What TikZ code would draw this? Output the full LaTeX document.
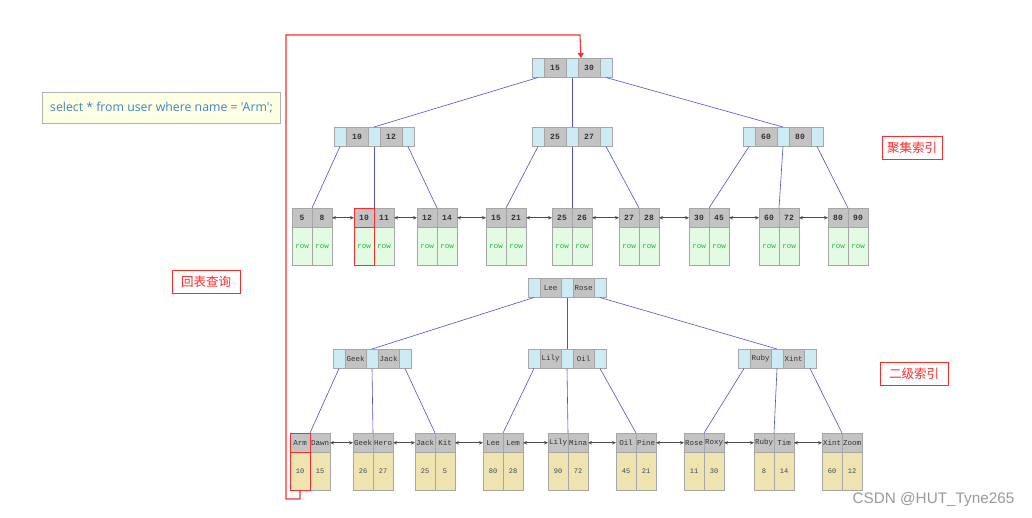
\documentclass[tikz,border=0pt]{standalone}
\usepackage{fontspec}
\usepackage{tikz}
\usetikzlibrary{arrows.meta}
\usetikzlibrary{calc}
\newfontfamily\keyfont{Liberation Mono}
\newfontfamily\cjkfont{Noto Sans CJK SC}
\newfontfamily\sqlfont{Open Sans}
\newfontfamily\markfont{Liberation Sans}

\definecolor{ptrblue}{HTML}{CDEBF4}
\definecolor{keygray}{HTML}{C3C3C3}
\definecolor{cellline}{HTML}{A6A6A6}
\definecolor{rowgreen}{HTML}{E2FBE2}
\definecolor{rowtext}{HTML}{2DB34A}
\definecolor{valyellow}{HTML}{EFE3B0}
\definecolor{valtext}{HTML}{3A4A5A}
\definecolor{linkblue}{HTML}{5050C8}
\definecolor{hired}{HTML}{FF2A2A}
\definecolor{sqlfill}{HTML}{FFFFE3}
\definecolor{sqltext}{HTML}{3C86C6}

\tikzset{
  cell/.style={draw=cellline, line width=0.6pt, inner sep=0pt, outer sep=0pt, minimum height=19.5pt},
  ptrcell/.style={cell, fill=ptrblue, minimum width=12pt},
  ckey/.style={cell, fill=keygray, minimum width=22pt, text=black!80, font=\keyfont\bfseries\fontsize{8}{8}\selectfont},
  skey/.style={ckey, minimum width=21pt, font=\keyfont\fontsize{7.5}{8}\selectfont},
  leafkey/.style={minimum width=20pt},
  rowcell/.style={cell, fill=rowgreen, minimum width=20pt, minimum height=38pt, text=rowtext, font=\keyfont\fontsize{7.5}{8}\selectfont},
  valcell/.style={cell, fill=valyellow, minimum width=20pt, minimum height=38pt, text=valtext, font=\keyfont\fontsize{7}{8}\selectfont},
  link/.style={linkblue, line width=0.6pt},
  sib/.style={{Stealth[length=4pt,width=3.5pt]}-{Stealth[length=4pt,width=3.5pt]}, black!70, line width=0.6pt},
  hl/.style={draw=hired, line width=1pt},
  back/.style={hired, line width=1.1pt, -{Triangle[length=5pt,width=6pt]}},
  tag/.style={draw=hired, line width=0.7pt, fill=white, text=hired, minimum width=68pt, minimum height=23pt, inner sep=0pt, font=\cjkfont\fontsize{12.5}{13}\selectfont},
  sqlbox/.style={draw=black!30, line width=0.7pt, fill=sqlfill, text=sqltext, minimum width=238pt, minimum height=31pt, inner sep=0pt, font=\sqlfont\fontsize{12.3}{14}\selectfont}
}

% inner node: [key style]{name}{x}{y}{key 1}{key 2}
\newcommand{\inode}[6][ckey]{%
  \node[ptrcell, anchor=north west] (#2-p1) at (#3,#4) {};
  \node[#1, anchor=west] (#2-k1) at (#2-p1.east) {#5};
  \node[ptrcell, anchor=west] (#2-p2) at (#2-k1.east) {};
  \node[#1, anchor=west] (#2-k2) at (#2-p2.east) {#6};
  \node[ptrcell, anchor=west] (#2-p3) at (#2-k2.east) {};
}
% leaf of the clustered index
\newcommand{\cleaf}[4]{%
  \node[ckey, leafkey, anchor=north west] (#1-k1) at (#2,208) {#3};
  \node[ckey, leafkey, anchor=west] (#1-k2) at (#1-k1.east) {#4};
  \node[rowcell, anchor=north] (#1-d1) at (#1-k1.south) {row};
  \node[rowcell, anchor=north] (#1-d2) at (#1-k2.south) {row};
}
% leaf of the secondary index
\newcommand{\sleaf}[6]{%
  \node[skey, leafkey, anchor=north west] (#1-k1) at (#2,433) {#3};
  \node[skey, leafkey, anchor=west] (#1-k2) at (#1-k1.east) {#4};
  \node[valcell, anchor=north] (#1-d1) at (#1-k1.south) {#5};
  \node[valcell, anchor=north] (#1-d2) at (#1-k2.south) {#6};
}

\begin{document}
\begin{tikzpicture}[x=1pt,y=-1pt]
\useasboundingbox (0,0) rectangle (1032,517);

% clustered index
\inode{r}{532}{58}{15}{30}
\inode{ca}{334}{127}{10}{12}
\inode{cb}{532}{127}{25}{27}
\inode{cc}{743}{127}{60}{80}

\cleaf{c1}{292}{5}{8}
\cleaf{c2}{354}{10}{11}
\cleaf{c3}{417}{12}{14}
\cleaf{c4}{486}{15}{21}
\cleaf{c5}{552}{25}{26}
\cleaf{c6}{619}{27}{28}
\cleaf{c7}{689}{30}{45}
\cleaf{c8}{759}{60}{72}
\cleaf{c9}{828}{80}{90}

\draw[link] (r-p1.south) -- (ca-p2.north);
\draw[link] (r-p2.south) -- (cb-p2.north);
\draw[link] (r-p3.south) -- (cc-p2.north);
\draw[link] (ca-p1.south) -- (c1-k1.north east);
\draw[link] (ca-p2.south) -- (c2-k1.north east);
\draw[link] (ca-p3.south) -- (c3-k1.north east);
\draw[link] (cb-p1.south) -- (c4-k1.north east);
\draw[link] (cb-p2.south) -- (c5-k1.north east);
\draw[link] (cb-p3.south) -- (c6-k1.north east);
\draw[link] (cc-p1.south) -- (c7-k1.north east);
\draw[link] (cc-p2.south) -- (c8-k1.north east);
\draw[link] (cc-p3.south) -- (c9-k1.north east);

\draw[sib] (c1-k2.east) -- (c2-k1.west);
\draw[sib] (c2-k2.east) -- (c3-k1.west);
\draw[sib] (c3-k2.east) -- (c4-k1.west);
\draw[sib] (c4-k2.east) -- (c5-k1.west);
\draw[sib] (c5-k2.east) -- (c6-k1.west);
\draw[sib] (c6-k2.east) -- (c7-k1.west);
\draw[sib] (c7-k2.east) -- (c8-k1.west);
\draw[sib] (c8-k2.east) -- (c9-k1.west);

\draw[hl] (c2-k1.north west) rectangle (c2-k1.south east);
\draw[hl] (c2-d1.north west) rectangle (c2-d1.south east);

% secondary index
\inode[skey]{s}{528}{278}{Lee}{Rose}
\inode[skey]{sa}{333}{349}{Geek}{Jack}
\inode[skey]{sb}{528}{349}{Lily}{Oil}
\inode[skey]{sc}{738}{349}{Ruby}{Xint}

\sleaf{s1}{290}{Arm}{Dawn}{10}{15}
\sleaf{s2}{353}{Geek}{Hero}{26}{27}
\sleaf{s3}{415}{Jack}{Kit}{25}{5}
\sleaf{s4}{483}{Lee}{Lem}{80}{28}
\sleaf{s5}{548}{Lily}{Mina}{90}{72}
\sleaf{s6}{616}{Oil}{Pine}{45}{21}
\sleaf{s7}{684}{Rose}{Roxy}{11}{30}
\sleaf{s8}{754}{Ruby}{Tim}{8}{14}
\sleaf{s9}{822}{Xint}{Zoom}{60}{12}

\draw[link] (s-p1.south) -- (sa-p2.north);
\draw[link] (s-p2.south) -- (sb-p2.north);
\draw[link] (s-p3.south) -- (sc-p2.north);
\draw[link] (sa-p1.south) -- (s1-k1.north east);
\draw[link] (sa-p2.south) -- (s2-k1.north east);
\draw[link] (sa-p3.south) -- (s3-k1.north east);
\draw[link] (sb-p1.south) -- (s4-k1.north east);
\draw[link] (sb-p2.south) -- (s5-k1.north east);
\draw[link] (sb-p3.south) -- (s6-k1.north east);
\draw[link] (sc-p1.south) -- (s7-k1.north east);
\draw[link] (sc-p2.south) -- (s8-k1.north east);
\draw[link] (sc-p3.south) -- (s9-k1.north east);

\draw[sib] (s1-k2.east) -- (s2-k1.west);
\draw[sib] (s2-k2.east) -- (s3-k1.west);
\draw[sib] (s3-k2.east) -- (s4-k1.west);
\draw[sib] (s4-k2.east) -- (s5-k1.west);
\draw[sib] (s5-k2.east) -- (s6-k1.west);
\draw[sib] (s6-k2.east) -- (s7-k1.west);
\draw[sib] (s7-k2.east) -- (s8-k1.west);
\draw[sib] (s8-k2.east) -- (s9-k1.west);

\draw[hl] (s1-k1.north west) rectangle (s1-k1.south east);
\draw[hl] (s1-d1.north west) rectangle (s1-d1.south east);

% back to the table
\coordinate (bk1) at (286,499);
\coordinate (bk2) at (580,35);
\coordinate (backin) at ($(r-k2.north west)+(3,0)$);
\draw[back] (s1-d1.south) |- (bk1) |- (bk2) -- (backin);

% labels
\node[sqlbox] (sql) at (161.5,107.8) {select * from user where name = 'Arm';};
\node[tag] (lookup) at (206,281.7) {回表查询};
\node[tag, minimum width=60pt] (clustered) at (912,147.7) {聚集索引};
\node[tag] (secondary) at (914,374) {二级索引};
\node[text=black!40, font=\markfont\fontsize{15.3}{16}\selectfont] (mark) at (933.5,499.5) {CSDN @HUT\_Tyne265};
\end{tikzpicture}
\end{document}
